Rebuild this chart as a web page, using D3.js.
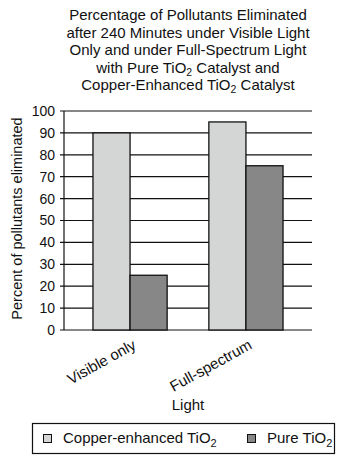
<!DOCTYPE html>
<html>
<head>
<meta charset="utf-8">
<script src="https://cdn.jsdelivr.net/npm/d3@7"></script>
<style>
  body { margin: 0; background: #fff; }
  text { font-family: "Liberation Sans", Arial, sans-serif; fill: #111; }
</style>
</head>
<body>
<div id="chart"></div>
<script>
// Data
const categories = ["Visible only", "Full-spectrum"];
const seriesNames = ["Copper-enhanced TiO2", "Pure TiO2"];
const copperValues = [90, 95];
const pureValues = [25, 75];
const yTicks = [0, 10, 20, 30, 40, 50, 60, 70, 80, 90, 100];
const titleLines = [
    ["Percentage of Pollutants Eliminated"],
    ["after 240 Minutes under Visible Light"],
    ["Only and under Full-Spectrum Light"],
    ["with Pure TiO", "2", " Catalyst and"],
    ["Copper-Enhanced TiO", "2", " Catalyst"]
];

const colors = ["#d4d6d6", "#878787"];

const W = 354, H = 464;
const margin = {top: 111, right: 42, bottom: 134, left: 64};
const width = W - margin.left - margin.right,
    height = H - margin.top - margin.bottom;

const svg = d3.select("#chart").append("svg")
    .attr("width", W)
    .attr("height", H);

// Title
const title = svg.append("g").attr("font-size", 15);
titleLines.forEach((parts, i) => {
    const t = title.append("text")
        .attr("x", margin.left + width / 2)
        .attr("y", 20 + i * 17.5)
        .attr("text-anchor", "middle");
    parts.forEach((p, j) => {
        if (j === 1) {
            t.append("tspan").attr("font-size", 10.5).attr("dy", 3).text(p);
        } else if (j === 2) {
            t.append("tspan").attr("dy", -3).text(p);
        } else {
            t.append("tspan").text(p);
        }
    });
});

const g = svg.append("g")
    .attr("transform", "translate(" + margin.left + "," + margin.top + ")");

// Scales
const x0 = d3.scaleBand().domain(categories).range([0, width])
    .paddingInner(0.36).paddingOuter(0.25);
const x1 = d3.scaleBand().domain(seriesNames).range([0, x0.bandwidth()]);
const y = d3.scaleLinear().domain([0, 100]).range([height, 0]);

// Gridlines
g.selectAll(".grid")
    .data(yTicks)
    .enter().append("line")
    .attr("x1", -4)
    .attr("x2", width)
    .attr("y1", d => y(d))
    .attr("y2", d => y(d))
    .attr("stroke", "#111")
    .attr("stroke-width", 1.2);

// Y axis
const yAxis = g.append("g")
    .call(d3.axisLeft(y).tickValues(yTicks).tickSize(4).tickPadding(5));
yAxis.select(".domain").attr("stroke", "#111").attr("stroke-width", 1.2)
    .attr("d", "M0," + height + "V0");
yAxis.selectAll(".tick line").remove();
yAxis.selectAll("text").attr("font-size", 14).attr("font-family", "Liberation Sans, Arial, sans-serif").attr("fill", "#111");

svg.append("text")
    .attr("transform", "rotate(-90)")
    .attr("x", -(margin.top + height / 2 - 2))
    .attr("y", 22)
    .attr("text-anchor", "middle")
    .attr("font-size", 14.5)
    .text("Percent of pollutants eliminated");

// Bars
const rows = categories.map((c, i) => ({
    category: c,
    values: [copperValues[i], pureValues[i]]
}));

const groups = g.selectAll(".group")
    .data(rows)
    .enter().append("g")
    .attr("transform", d => "translate(" + x0(d.category) + ",0)");

groups.selectAll("rect")
    .data(d => d.values.map((v, i) => ({name: seriesNames[i], value: v, i: i})))
    .enter().append("rect")
    .attr("x", d => x1(d.name))
    .attr("y", d => y(d.value))
    .attr("width", x1.bandwidth())
    .attr("height", d => height - y(d.value))
    .attr("fill", d => colors[d.i])
    .attr("stroke", "#111")
    .attr("stroke-width", 1.3);

// X axis labels
const xLabels = g.append("g");
categories.forEach(c => {
    xLabels.append("text")
        .attr("transform", "translate(" + (x0(c) + x0.bandwidth() / 2 + 7) + "," + (height + 18) + ") rotate(-29)")
        .attr("text-anchor", "end")
        .attr("font-size", 15)
        .text(c);
});

svg.append("text")
    .attr("x", margin.left + width / 2)
    .attr("y", 410)
    .attr("text-anchor", "middle")
    .attr("font-size", 15)
    .text("Light");

// Legend
const legend = svg.append("g");
legend.append("rect")
    .attr("x", 32.5).attr("y", 423.5)
    .attr("width", 302).attr("height", 30)
    .attr("fill", "none").attr("stroke", "#111").attr("stroke-width", 1.2);

const legendX = [43, 247];
seriesNames.forEach((s, i) => {
    legend.append("rect")
        .attr("x", legendX[i] + 0.5).attr("y", 434.5)
        .attr("width", 8).attr("height", 8)
        .attr("fill", colors[i]).attr("stroke", "#111").attr("stroke-width", 1);
    const t = legend.append("text")
        .attr("x", legendX[i] + 20)
        .attr("y", 443)
        .attr("font-size", 15);
    t.append("tspan").text(s.slice(0, -1));
    t.append("tspan").attr("font-size", 11).attr("dy", 4).text(s.slice(-1));
});
</script>
</body>
</html>
